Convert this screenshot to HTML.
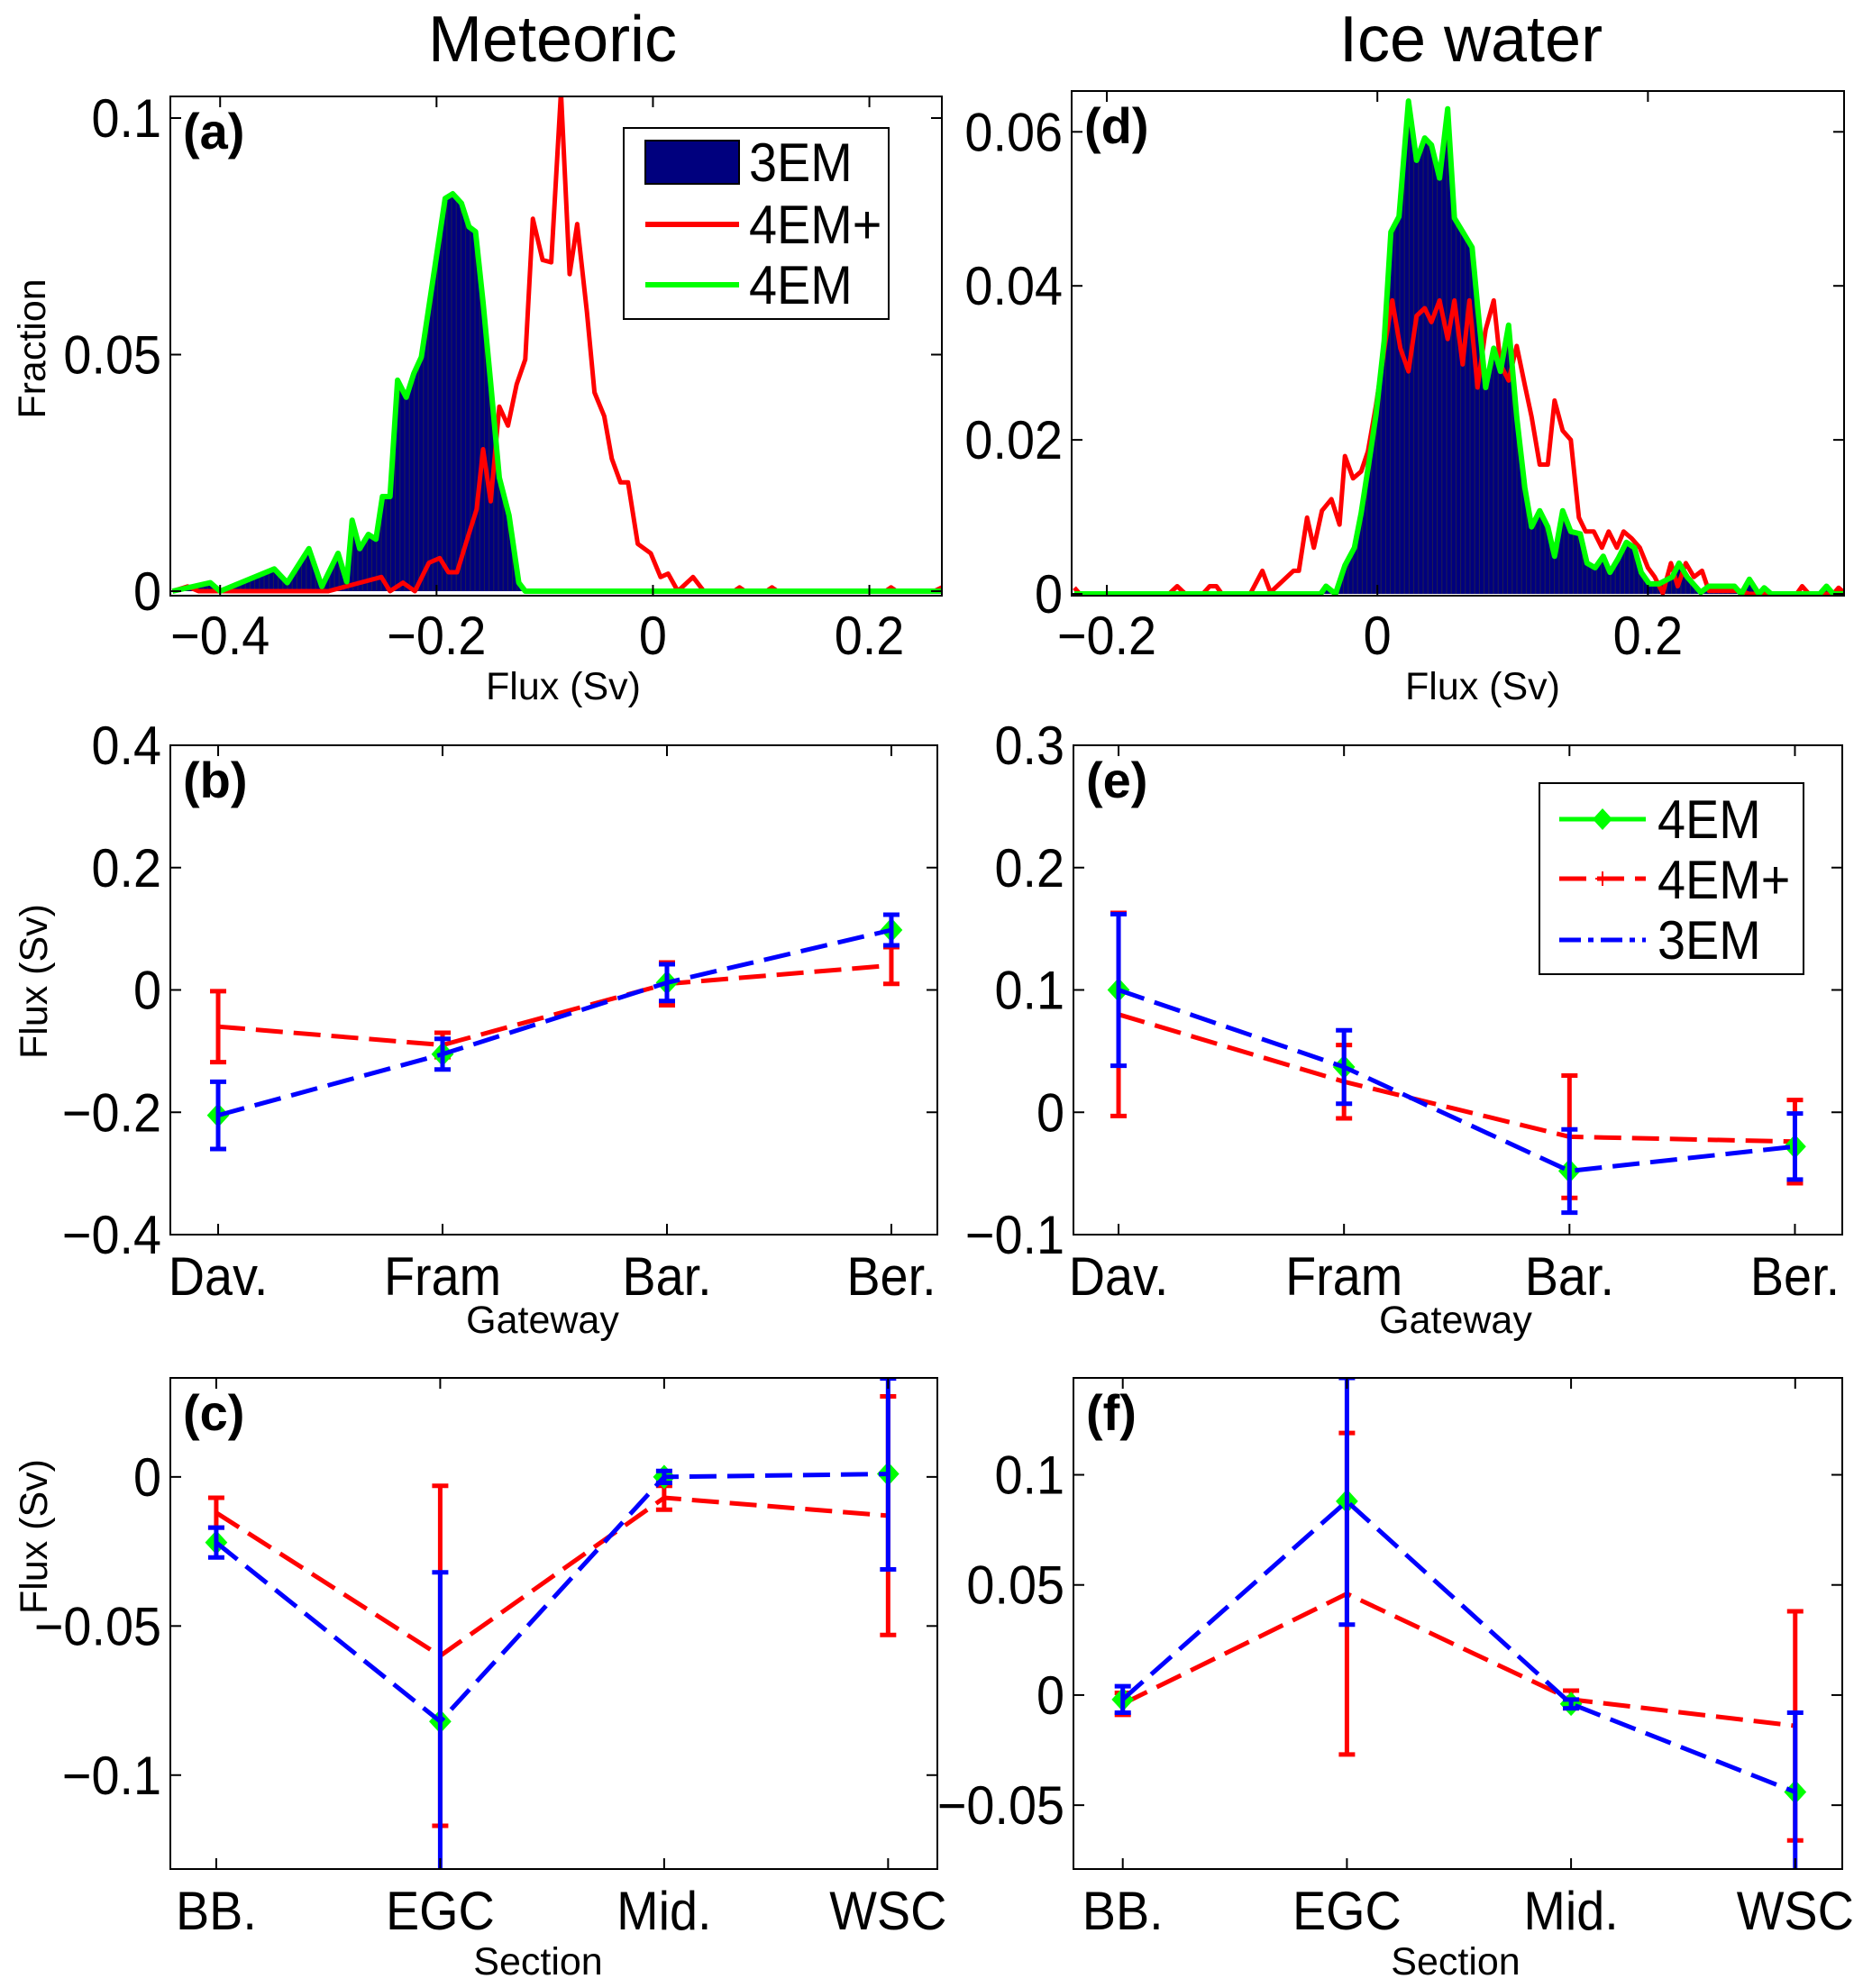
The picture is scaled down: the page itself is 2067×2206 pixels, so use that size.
<!DOCTYPE html>
<html><head><meta charset="utf-8"><style>
html,body{margin:0;padding:0;background:#fff}
svg{display:block;font-family:"Liberation Sans",sans-serif}
</style></head><body>
<svg id="fig" width="2067" height="2206" viewBox="0 0 2067 2206" xmlns="http://www.w3.org/2000/svg">
<rect width="2067" height="2206" fill="#fff"/>
<text x="613" y="68" font-size="72" text-anchor="middle">Meteoric</text>
<text x="1632" y="68" font-size="72" text-anchor="middle">Ice water</text>
</svg>
<script>
// ---- Panel (a) histogram data ----
const aGreenX=[-0.444,-0.409,-0.4,-0.35,-0.338,-0.318,-0.306,-0.291,-0.283,-0.278,-0.271,-0.263,-0.256,-0.25,-0.243,-0.236,-0.228,-0.221,-0.214,-0.192,-0.185,-0.177,-0.17,-0.164,-0.157,-0.15,-0.142,-0.133,-0.124,-0.118,0.0,0.267];
const aGreenY=[0,0.0018,0,0.0047,0.0018,0.009,0.001,0.008,0.002,0.015,0.009,0.012,0.011,0.02,0.02,0.0446,0.041,0.046,0.0495,0.083,0.084,0.082,0.077,0.076,0.061,0.044,0.024,0.016,0.0018,0,0,0];
const aRedX=[-0.444,-0.43,-0.42,-0.3,-0.251,-0.243,-0.231,-0.22,-0.207,-0.197,-0.189,-0.181,-0.171,-0.163,-0.157,-0.15,-0.142,-0.134,-0.126,-0.118,-0.111,-0.102,-0.094,-0.085,-0.077,-0.07,-0.061,-0.054,-0.045,-0.038,-0.03,-0.023,-0.014,-0.002,0.007,0.014,0.023,0.037,0.047,0.075,0.08,0.085,0.105,0.11,0.115,0.215,0.22,0.225,0.26,0.267];
const aRedY=[0,0.001,0,0,0.003,0,0.0018,0,0.006,0.007,0.004,0.004,0.0115,0.0173,0.03,0.019,0.039,0.035,0.0437,0.049,0.0787,0.07,0.0695,0.1055,0.067,0.0776,0.059,0.042,0.037,0.028,0.023,0.023,0.01,0.008,0.003,0.0037,0,0.003,0,0,0.0008,0,0,0.0008,0,0,0.0008,0,0,0.0008];
// ---- Panel (d) histogram data ----
const dGreenX=[-0.224,-0.042,-0.038,-0.031,-0.024,-0.017,-0.012,-0.005,-0.001,0.005,0.01,0.016,0.023,0.029,0.035,0.04,0.046,0.052,0.057,0.07,0.074,0.08,0.086,0.091,0.097,0.103,0.109,0.114,0.12,0.126,0.131,0.137,0.143,0.15,0.155,0.161,0.167,0.172,0.178,0.184,0.19,0.195,0.201,0.208,0.218,0.223,0.229,0.239,0.245,0.264,0.269,0.275,0.282,0.286,0.291,0.327,0.332,0.337,0.346];
const dGreenY=[0,0,0.001,0,0.0037,0.006,0.0105,0.0185,0.0233,0.0328,0.047,0.049,0.064,0.0563,0.0592,0.0583,0.054,0.063,0.0488,0.045,0.0375,0.0268,0.0319,0.0289,0.0349,0.023,0.0138,0.0087,0.0108,0.0087,0.0049,0.0108,0.0081,0.0078,0.004,0.0034,0.0049,0.0028,0.0046,0.0067,0.006,0.0028,0.0013,0.0013,0.0022,0.004,0.0022,0.0002,0.001,0.001,0,0.0019,0,0.0008,0,0,0.001,0,0];
const dRedX=[-0.224,-0.22,-0.154,-0.148,-0.142,-0.129,-0.124,-0.119,-0.115,-0.094,-0.085,-0.079,-0.062,-0.058,-0.052,-0.047,-0.041,-0.034,-0.028,-0.024,-0.018,-0.012,-0.007,-0.001,0.006,0.011,0.017,0.023,0.029,0.035,0.04,0.046,0.052,0.057,0.063,0.068,0.074,0.08,0.086,0.091,0.097,0.103,0.109,0.114,0.12,0.126,0.131,0.137,0.143,0.149,0.154,0.16,0.166,0.171,0.177,0.182,0.188,0.194,0.2,0.205,0.211,0.217,0.222,0.228,0.234,0.24,0.245,0.268,0.275,0.31,0.314,0.319,0.337,0.341,0.346];
const dRedY=[0.0008,0,0,0.001,0,0,0.001,0.001,0,0,0.003,0.0002,0.003,0.003,0.0099,0.006,0.0108,0.0123,0.009,0.0179,0.015,0.0159,0.0185,0.0245,0.0328,0.0381,0.0319,0.0289,0.0361,0.0371,0.0353,0.0381,0.0331,0.0381,0.0298,0.0381,0.0268,0.0343,0.0381,0.0298,0.0277,0.0322,0.0271,0.023,0.0168,0.0168,0.0251,0.0212,0.02,0.0099,0.0081,0.0081,0.006,0.0081,0.006,0.0081,0.0072,0.006,0.0034,0.0022,0.0001,0.004,0.001,0.004,0.0022,0.003,0.0004,0.0004,0,0,0.001,0,0,0.0008,0];
// ---- Gateway / section data ----
const gateways=["Dav.","Fram","Bar.","Ber."];
const sections=["BB.","EGC","Mid.","WSC"];
const b3EM=[-0.205,-0.105,0.012,0.098];
const b3EMerr=[0.055,0.025,0.03,0.025];
const b4EMp=[-0.06,-0.09,0.01,0.04];
const b4EMperr=[0.058,0.02,0.035,0.03];
const e3EM=[0.1,0.037,-0.048,-0.028];
const e3EMerr=[0.062,0.03,0.034,0.027];
const e4EMp=[0.08,0.025,-0.02,-0.024];
const e4EMperr=[0.083,0.03,0.05,0.034];
const c3EM=[-0.022,-0.082,0.0,0.001];
const c3EMerr=[0.005,0.05,0.002,0.032];
const c4EMp=[-0.012,-0.06,-0.007,-0.013];
const c4EMperr=[0.005,0.057,0.004,0.04];
const f3EM=[-0.002,0.088,-0.004,-0.044];
const f3EMerr=[0.006,0.056,0.002,0.036];
const f4EMp=[-0.004,0.046,-0.002,-0.014];
const f4EMperr=[0.005,0.073,0.004,0.052];
const aXTicks=[-0.4,-0.2,0,0.2], aXLabels=["\u22120.4","\u22120.2","0","0.2"];
const aYTicks=[0,0.05,0.1], aYLabels=["0","0.05","0.1"];
const dXTicks=[-0.2,0,0.2], dXLabels=["\u22120.2","0","0.2"];
const dYTicks=[0,0.02,0.04,0.06], dYLabels=["0","0.02","0.04","0.06"];
const bYTicks=[-0.4,-0.2,0,0.2,0.4], bYLabels=["\u22120.4","\u22120.2","0","0.2","0.4"];
const eYTicks=[-0.1,0,0.1,0.2,0.3], eYLabels=["\u22120.1","0","0.1","0.2","0.3"];
const cYTicks=[-0.1,-0.05,0], cYLabels=["\u22120.1","\u22120.05","0"];
const fYTicks=[-0.05,0,0.05,0.1], fYLabels=["\u22120.05","0","0.05","0.1"];

const NS="http://www.w3.org/2000/svg";
const svg=document.getElementById("fig");
function mk(tag,attrs,parent){const e=document.createElementNS(NS,tag);for(const k in attrs)e.setAttribute(k,attrs[k]);(parent||svg).appendChild(e);return e;}
function txt(s,x,y,size,anchor,parent,cond){
  const t=mk("text",{x:0,y:0,"font-size":size,"text-anchor":anchor||"middle",transform:`translate(${x},${y}) scale(${cond||1},1)`},parent);
  t.textContent=s;return t;}

function makeAxes(id,L,R,T,B,xmin,xmax,ymin,ymax){
  const sx=v=>L+(v-xmin)/(xmax-xmin)*(R-L);
  const sy=v=>B-(v-ymin)/(ymax-ymin)*(B-T);
  const g=mk("g",{});
  
  
  const cp=mk("clipPath",{id:"clip-"+id},g);
  mk("rect",{x:L,y:T,width:R-L,height:B-T},cp);
  const plot=mk("g",{"clip-path":"url(#clip-"+id+")"},g);
  return {L,R,T,B,sx,sy,g,plot,id};
}
function frame(ax,xt,xl,yt,yl,labY){
  const g=ax.g;
  const box=mk("rect",{x:ax.L,y:ax.T,width:ax.R-ax.L,height:ax.B-ax.T,fill:"none",stroke:"#000","stroke-width":2},g);
  
  
  xt.forEach((v,i)=>{const x=ax.sx(v);
    mk("line",{x1:x,x2:x,y1:ax.B,y2:ax.B-12,stroke:"#000","stroke-width":2},g);
    mk("line",{x1:x,x2:x,y1:ax.T,y2:ax.T+12,stroke:"#000","stroke-width":2},g);
    const t=txt(xl[i],x,labY,60,"middle",g,0.93);
    
    
  });
  yt.forEach((v,i)=>{const y=ax.sy(v);
    mk("line",{x1:ax.L,x2:ax.L+12,y1:y,y2:y,stroke:"#000","stroke-width":2},g);
    mk("line",{x1:ax.R,x2:ax.R-12,y1:y,y2:y,stroke:"#000","stroke-width":2},g);
    const t=txt(yl[i],ax.L-10,y+21,60,"end",g,0.93);
    
    
  });
}
function panelLabel(ax,s){const t=txt(s,ax.L+14,ax.T+58,56,"start",ax.g);t.setAttribute("font-weight","bold");
  
  }
function polyline(ax,xs,ys,color,w,dash,name){
  const pts=xs.map((x,i)=>ax.sx(x).toFixed(1)+","+ax.sy(ys[i]).toFixed(1)).join(" ");
  const p=mk("polyline",{points:pts,fill:"none",stroke:color,"stroke-width":w,"stroke-linejoin":"round"},ax.plot);
  if(dash)p.setAttribute("stroke-dasharray",dash);
  
  
}
function areaBars(ax,xs,ys,name){
  const g=mk("g",{},ax.plot);
  
  
  const y0=ax.sy(0);
  const pts=xs.map((x,i)=>ax.sx(x).toFixed(1)+","+ax.sy(ys[i]).toFixed(1));
  const d="M"+ax.sx(xs[0]).toFixed(1)+","+y0+" L"+pts.join(" L")+" L"+ax.sx(xs[xs.length-1]).toFixed(1)+","+y0+"Z";
  const cid="area-"+ax.id;
  const cp=mk("clipPath",{id:cid},g);
  mk("path",{d:d},cp);
  const inner=mk("g",{"clip-path":"url(#"+cid+")"},g);
  const r=mk("path",{d:d,fill:"#00007e"},inner);
  
  
  let dd="";
  for(let x=ax.L;x<ax.R;x+=5.2){dd+=`M${x.toFixed(1)},${ax.T}V${y0}`;}
  mk("path",{d:dd,stroke:"#202050","stroke-width":1,fill:"none"},inner);
}
function errSeries(ax,vals,errs,color,dash,name){
  const xs=vals.map((v,i)=>i+1);
  polyline(ax,xs,vals,color,5,dash,name+'-line');
  vals.forEach((v,i)=>{
    const x=ax.sx(i+1), y1=ax.sy(v-errs[i]), y2=ax.sy(v+errs[i]);
    const e=mk("path",{d:`M${x},${y1}V${y2}M${x-9},${y1}H${x+9}M${x-9},${y2}H${x+9}`,stroke:color,"stroke-width":5,fill:"none"},ax.plot);
    
    
  });
}
function diamonds(ax,vals,name){
  vals.forEach((v,i)=>{const x=ax.sx(i+1),y=ax.sy(v);
    const d=mk("polygon",{points:`${x},${y-12} ${x+11},${y} ${x},${y+12} ${x-11},${y}`,fill:"#00ff00",stroke:"#00ff00","stroke-width":2},ax.plot);
    
    
  });
}
function label(s,x,y,size,name,rot){
  const t=mk("text",{x:x,y:y,"font-size":size,"text-anchor":"middle"});
  t.textContent=s;
  if(rot)t.setAttribute("transform",`rotate(-90 ${x} ${y})`);
  
  }

// Panel a
const A=makeAxes("a",189,1045,107,661,-0.446,0.267,-0.00095,0.10457);
areaBars(A,aGreenX,aGreenY,"hist-3em-a");
polyline(A,aRedX,aRedY,"#ff0000",5,null,"line-4em-plus-a");
polyline(A,aGreenX,aGreenY,"#00ff00",6,null,"line-4em-a");
frame(A,aXTicks,aXLabels,aYTicks,aYLabels,726);
panelLabel(A,"(a)");
label("Flux (Sv)",625,776,43,"x-axis-title-a");
label("Fraction",50,387,43,"y-axis-title-a",true);
// legend a
{const g=mk("g",{});
 
 
 mk("rect",{x:692,y:142,width:294,height:212,fill:"#fff",stroke:"#000","stroke-width":2},g);
 mk("rect",{x:716,y:156,width:104,height:48,fill:"#00007e",stroke:"#000","stroke-width":2},g);
 mk("line",{x1:716,x2:820,y1:249,y2:249,stroke:"#ff0000","stroke-width":6},g);
 mk("line",{x1:716,x2:820,y1:316,y2:316,stroke:"#00ff00","stroke-width":6},g);
 [["3EM",201],["4EM+",270],["4EM",337]].forEach(r=>{const t=txt(r[0],831,r[1],60,"start",g,0.93);
   
   });}

// Panel d
const D=makeAxes("d",1189,2046,101,661,-0.226,0.345,-0.00023,0.0653);
areaBars(D,dGreenX,dGreenY,"hist-3em-d");
polyline(D,dRedX,dRedY,"#ff0000",5,null,"line-4em-plus-d");
polyline(D,dGreenX,dGreenY,"#00ff00",6,null,"line-4em-d");
frame(D,dXTicks,dXLabels,dYTicks,dYLabels,726);
panelLabel(D,"(d)");
label("Flux (Sv)",1645,776,43,"x-axis-title-d");

// Panel b
const Bx=makeAxes("b",189,1040,827,1370,0.787,4.205,-0.4,0.4);
errSeries(Bx,b4EMp,b4EMperr,"#ff0000","30 12","series-4em-plus-b");
diamonds(Bx,b3EM,"marker-4em-b");
errSeries(Bx,b3EM,b3EMerr,"#0000ff","30 12","series-3em-b");
frame(Bx,[1,2,3,4],gateways,bYTicks,bYLabels,1437);
panelLabel(Bx,"(b)");
label("Gateway",602,1479,43,"x-axis-title-b");
label("Flux (Sv)",52,1089,43,"y-axis-title-b",true);

// Panel e
const E=makeAxes("e",1191,2044,827,1370,0.8,4.21,-0.1,0.3);
errSeries(E,e4EMp,e4EMperr,"#ff0000","30 12","series-4em-plus-e");
diamonds(E,e3EM,"marker-4em-e");
errSeries(E,e3EM,e3EMerr,"#0000ff","30 12","series-3em-e");
frame(E,[1,2,3,4],gateways,eYTicks,eYLabels,1437);
panelLabel(E,"(e)");
label("Gateway",1615,1479,43,"x-axis-title-e");
{const g=mk("g",{});
 
 
 mk("rect",{x:1708,y:869,width:293,height:212,fill:"#fff",stroke:"#000","stroke-width":2},g);
 mk("line",{x1:1730,x2:1826,y1:909,y2:909,stroke:"#00ff00","stroke-width":5},g);
 mk("polygon",{points:"1778,897 1789,909 1778,921 1767,909",fill:"#00ff00"},g);
 mk("line",{x1:1730,x2:1826,y1:975,y2:975,stroke:"#ff0000","stroke-width":5,"stroke-dasharray":"30 12"},g);
 mk("path",{d:"M1778,967V983M1770,975H1786",stroke:"#ff0000","stroke-width":2},g);
 mk("line",{x1:1730,x2:1826,y1:1043,y2:1043,stroke:"#0000ff","stroke-width":5,"stroke-dasharray":"24 8 6 8"},g);
 [["4EM",930],["4EM+",997],["3EM",1064]].forEach(r=>{const t=txt(r[0],1839,r[1],60,"start",g,0.93);
   
   });}

// Panel c
const C=makeAxes("c",189,1040,1529,2074,0.795,4.22,-0.1315,0.0332);
errSeries(C,c4EMp,c4EMperr,"#ff0000","30 12","series-4em-plus-c");
diamonds(C,c3EM,"marker-4em-c");
errSeries(C,c3EM,c3EMerr,"#0000ff","30 12","series-3em-c");
frame(C,[1,2,3,4],sections,cYTicks,cYLabels,2141);
panelLabel(C,"(c)");
label("Section",597,2191,43,"x-axis-title-c");
label("Flux (Sv)",52,1705,43,"y-axis-title-c",true);

// Panel f
const F=makeAxes("f",1191,2044,1529,2074,0.78,4.21,-0.079,0.144);
errSeries(F,f4EMp,f4EMperr,"#ff0000","30 12","series-4em-plus-f");
diamonds(F,f3EM,"marker-4em-f");
errSeries(F,f3EM,f3EMerr,"#0000ff","30 12","series-3em-f");
frame(F,[1,2,3,4],sections,fYTicks,fYLabels,2141);
panelLabel(F,"(f)");
label("Section",1615,2191,43,"x-axis-title-f");
</script>
</body></html>
